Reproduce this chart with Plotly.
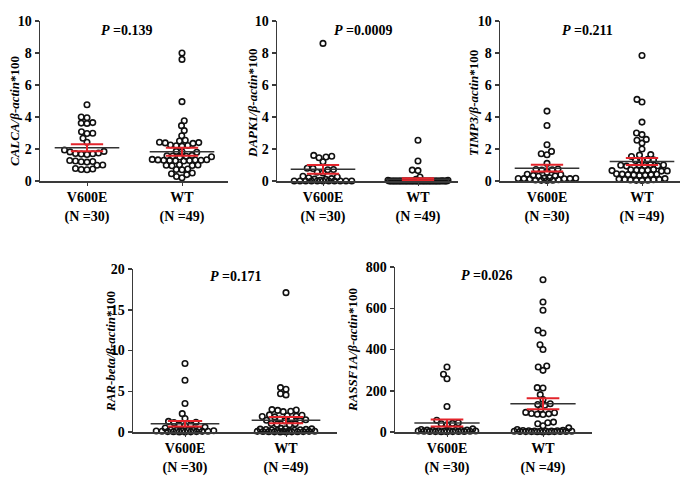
import numpy as np
import plotly.graph_objects as go

# ---------------- data ----------------
groups = ["V600E", "WT"]
group_n = [30, 49]
genes = ["CALCA", "DAPK1", "TIMP3", "RAR-beta", "RASSF1A"]
p_values = ["0.139", "0.0009", "0.211", "0.171", "0.026"]
y_max = [10, 10, 10, 20, 800]
y_dtick = [2, 2, 2, 5, 200]

calca_v600e = [4.77, 4.0, 3.95, 3.65, 3.62, 3.6, 3.08, 2.98, 2.97, 2.67, 2.42, 1.94,
               1.85, 1.82, 1.75, 1.72, 1.68, 1.66, 1.7, 1.25, 1.22, 1.2, 1.18, 1.28,
               1.0, 0.98, 0.78, 0.72, 0.7, 0.75]
calca_wt = [8.0, 7.6, 4.96, 3.77, 3.46, 3.15, 2.83, 2.55, 2.5, 2.42, 2.4, 2.38, 2.35,
            2.25, 2.22, 2.2, 2.18, 1.85, 1.83, 1.8, 1.6, 1.58, 1.56, 1.55, 1.52, 1.5,
            1.35, 1.33, 1.32, 1.31, 1.3, 1.3, 1.28, 1.28, 1.27, 1.25, 1.02, 1.0, 0.98,
            0.97, 0.95, 0.75, 0.72, 0.7, 0.5, 0.45, 0.4, 0.28, 0.2]
dapk1_v600e = [8.6, 1.6, 1.55, 1.5, 1.45, 1.2, 0.8, 0.78, 0.72, 0.7, 0.55, 0.5, 0.3,
               0.25, 0.2, 0.15, 0.12, 0.1, 0.05, 0, 0, 0, 0, 0, 0, 0, 0, 0, 0, 0]
dapk1_wt = [2.55, 1.25, 0.68, 0.65, 0.25, 0.1, 0.05, 0.05, 0.02] + [0] * 40
timp3_v600e = [4.37, 3.47, 2.27, 1.85, 1.7, 1.64, 1.1, 0.75, 0.72, 0.7, 0.68, 0.55,
               0.42, 0.4, 0.35, 0.32, 0.3, 0.2, 0.18, 0.17, 0.16, 0.15, 0.15, 0.14,
               0.12, 0.08, 0.06, 0.05, 0.04, 0.03]
timp3_wt = [7.84, 5.1, 4.94, 3.68, 3.0, 2.9, 2.6, 2.55, 2.37, 2.0, 1.65, 1.62, 1.53,
            1.35, 1.32, 1.3, 1.28, 1.02, 1.0, 1.0, 0.98, 0.97, 0.95, 0.93, 0.72, 0.7,
            0.68, 0.67, 0.66, 0.65, 0.63, 0.62, 0.45, 0.43, 0.42, 0.4, 0.4, 0.38, 0.37,
            0.35, 0.15, 0.12, 0.1, 0.1, 0.08, 0.07, 0.05, 0.04, 0.03]
rar_v600e = [8.4, 6.35, 3.5, 2.25, 1.65, 1.3, 1.2, 1.15, 0.9, 0.85, 0.8, 0.6, 0.5,
             0.3, 0.25, 0.2, 0.2, 0.18, 0.15, 0.15, 0.12, 0.1, 0.1, 0.08, 0.05, 0.05,
             0.03, 0.02, 0.01, 0.0]
rar_wt = [17.1, 5.45, 5.25, 4.7, 4.55, 2.75, 2.7, 2.65, 2.55, 2.5, 2.1, 2.05, 2.0,
          1.95, 1.9, 1.85, 1.6, 1.55, 1.5, 1.45, 1.4, 1.35, 1.05, 1.0, 0.95, 0.9,
          0.45, 0.4, 0.38, 0.35, 0.32, 0.3, 0.28, 0.25, 0.22, 0.2, 0.12, 0.1, 0.1,
          0.08, 0.08, 0.06, 0.05, 0.04, 0.03, 0.02, 0.02, 0.01, 0.0]
rassf1a_v600e = [315, 280, 258, 124, 57, 45, 42, 40, 35, 15, 12, 10, 9, 8, 8, 7, 6,
                 6, 5, 5, 5, 4, 4, 3, 3, 3, 2, 2, 1, 1]
rassf1a_wt = [738, 630, 590, 493, 480, 423, 400, 320, 315, 299, 215, 213, 181, 157,
              137, 133, 130, 110, 95, 93, 90, 88, 86, 85, 48, 45, 40, 30, 20, 12, 8,
              7, 6, 6, 5, 5, 5, 4, 4, 4, 3, 3, 3, 2, 2, 2, 1, 1, 0]

# mean and SEM per gene, [V600E, WT]
mean_vals = [[2.08, 1.83], [0.73, 0.11], [0.80, 1.22], [1.02, 1.45], [44, 137]]
sem_vals = [[0.22, 0.25], [0.27, 0.06], [0.21, 0.22], [0.33, 0.38], [17, 27]]

values = [[calca_v600e, calca_wt], [dapk1_v600e, dapk1_wt], [timp3_v600e, timp3_wt],
          [rar_v600e, rar_wt], [rassf1a_v600e, rassf1a_wt]]

# ---------------- layout geometry (pixels) ----------------
W, H = 685, 480
boxes = [  # x0, x1, y_top, y_bottom, category pixel centres
    (40, 228, 21, 181, 87, 182),
    (277, 458, 21, 181, 323, 418),
    (500, 680, 21, 181, 547, 642),
    (133, 337, 269, 432, 185, 286),
    (395, 592, 267, 432, 447, 543),
]
ytitle_pos = [(15, 111), (252, 103), (473, 103), (110, 352), (352, 350)]
p_pos = [(127, 30), (363, 30), (587, 30), (236, 276), (487, 275)]

FONT = "Liberation Serif"
RED = "#e3242b"
AX = "#3a3a3a"


def swarm(vals, ypx, d=5.6, maxhalf=30.0):
    """Beeswarm offsets (pixels) computed from the values."""
    vals = np.asarray(vals, float)
    order = np.argsort(vals, kind="stable")
    cands = np.arange(-maxhalf, maxhalf + 0.01, 0.25)
    cands = cands[np.argsort(np.abs(cands), kind="stable")]
    px, py = [], []
    offs = np.zeros(len(vals))
    for i in order:
        y = vals[i] * ypx
        c = 0.0
        if px:
            P = np.array(px)
            Q = np.array(py)
            m = np.abs(Q - y) < d
            if m.any():
                dx = cands[:, None] - P[m][None, :]
                dy = y - Q[m][None, :]
                dist = np.sqrt(dx ** 2 + dy ** 2).min(axis=1)
                ok = dist >= d
                c = cands[ok][0] if ok.any() else cands[np.argmax(dist)]
        offs[i] = c
        px.append(c)
        py.append(y)
    return offs


fig = go.Figure()
annotations = []
layout_axes = {}

for k in range(5):
    x0, x1, yt, yb, c0, c1 = boxes[k]
    spacing = c1 - c0
    xr = [(x0 - c0) / spacing, (x1 - c0) / spacing]
    ypx = (yb - yt) / y_max[k]
    xa = "x" if k == 0 else f"x{k + 1}"
    ya = "y" if k == 0 else f"y{k + 1}"

    for g in range(2):
        v = values[k][g]
        offs = swarm(v, ypx) / spacing
        fig.add_trace(go.Scatter(
            x=g + offs, y=v, mode="markers", xaxis=xa, yaxis=ya,
            marker=dict(symbol="circle-open", size=5.5, color="#111111",
                        line=dict(width=1.6, color="#111111")),
            cliponaxis=False, showlegend=False, hoverinfo="y"))

    # mean lines (black) and SEM (red)
    mx, my, sx, sy = [], [], [], []
    for g in range(2):
        m = mean_vals[k][g]
        s = sem_vals[k][g]
        mx += [g - 0.34, g + 0.34, None]
        my += [m, m, None]
        sx += [g - 0.17, g + 0.17, None, g - 0.17, g + 0.17, None, g, g, None]
        sy += [m + s, m + s, None, m - s, m - s, None, m - s, m + s, None]
    fig.add_trace(go.Scatter(x=mx, y=my, mode="lines", xaxis=xa, yaxis=ya,
                             line=dict(color="#333333", width=1.5),
                             cliponaxis=False, showlegend=False, hoverinfo="skip"))
    fig.add_trace(go.Scatter(x=sx, y=sy, mode="lines", xaxis=xa, yaxis=ya,
                             line=dict(color=RED, width=2),
                             cliponaxis=False, showlegend=False, hoverinfo="skip"))

    xname = "xaxis" if k == 0 else f"xaxis{k + 1}"
    yname = "yaxis" if k == 0 else f"yaxis{k + 1}"
    layout_axes[xname] = dict(
        domain=[x0 / W, x1 / W], range=xr, anchor=ya, automargin=False,
        tickvals=[0, 1],
        ticktext=[f"<b>{groups[g]}</b><br><b>(N ={group_n[g]})</b>" for g in range(2)],
        tickfont=dict(family=FONT, size=14, color="black"),
        showline=True, linecolor=AX, linewidth=1.5, ticks="outside", ticklen=3,
        tickcolor=AX, tickwidth=1, showgrid=False, zeroline=False, fixedrange=True)
    tv = list(range(0, y_max[k] + 1, y_dtick[k]))
    layout_axes[yname] = dict(
        domain=[1 - yb / H, 1 - yt / H], range=[0, y_max[k]], anchor=xa,
        automargin=False,
        tickvals=tv, ticktext=[f"<b>{t}</b>" for t in tv],
        tickfont=dict(family=FONT, size=14, color="black"),
        showline=True, linecolor=AX, linewidth=1.5, ticks="outside", ticklen=4,
        tickcolor=AX, tickwidth=1.5, showgrid=False, zeroline=False, fixedrange=True)

    tx, ty = ytitle_pos[k]
    annotations.append(dict(
        x=tx / W, y=1 - ty / H, xref="paper", yref="paper", showarrow=False,
        textangle=-90, xanchor="center", yanchor="middle",
        text=f"<b><i>{genes[k]}/β-actin</i>*100</b>",
        font=dict(family=FONT, size=13, color="black")))
    px_, py_ = p_pos[k]
    annotations.append(dict(
        x=px_ / W, y=1 - py_ / H, xref="paper", yref="paper", showarrow=False,
        xanchor="center", yanchor="middle",
        text=f"<b><i>P</i> =" + p_values[k] + "</b>",
        font=dict(family=FONT, size=14, color="black")))

fig.update_layout(
    width=W, height=H, margin=dict(l=0, r=0, t=0, b=0, autoexpand=False),
    paper_bgcolor="white", plot_bgcolor="white", hovermode=False,
    annotations=annotations, **layout_axes)

fig.write_html(
    "out.html",
    config={"displayModeBar": False, "staticPlot": True},
    post_script="document.body.style.margin='0';document.body.style.overflow='hidden';")
